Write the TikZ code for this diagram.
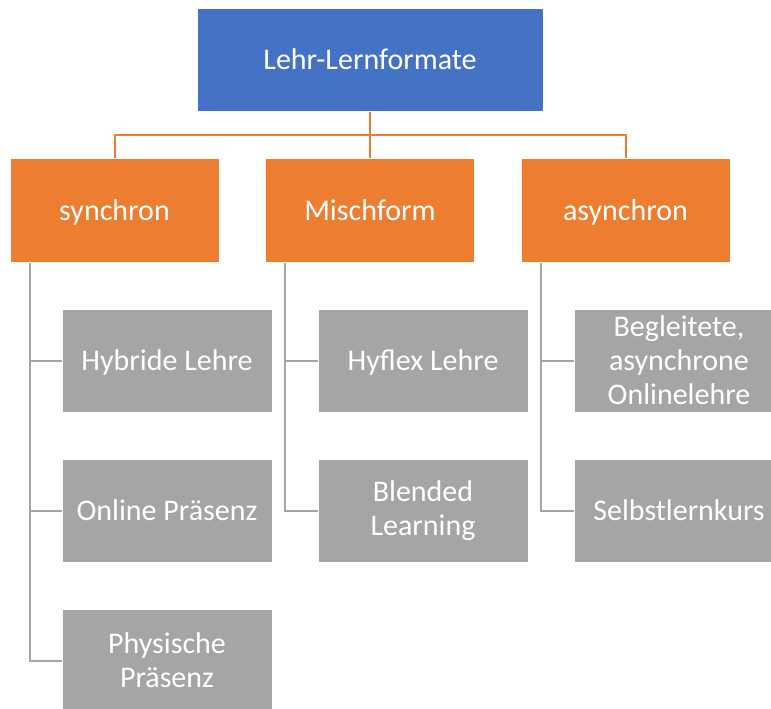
\documentclass[tikz,border=0pt]{standalone}
\usepackage{fontspec}
\setmainfont{Carlito}
\usepackage{xcolor}
\usetikzlibrary{positioning,calc}

\definecolor{topblue}{HTML}{4472C4}
\definecolor{catorange}{HTML}{ED7D31}
\definecolor{itemgray}{HTML}{A5A5A5}

\begin{document}
\begin{tikzpicture}[
    x=1pt, y=-1pt,
    root/.style={rectangle, draw=white, line width=0.8pt, fill=topblue, text=white, minimum width=346pt, minimum height=103pt, inner sep=0pt, font=\fontsize{30}{34}\selectfont, text height=19pt, text depth=0pt},
    category/.style={rectangle, draw=white, line width=0.8pt, fill=catorange, text=white, minimum width=209pt, minimum height=104pt, inner sep=0pt, font=\fontsize{30}{34}\selectfont, text height=19pt, text depth=0pt},
    item/.style={rectangle, draw=white, line width=0.8pt, fill=itemgray, text=white, minimum width=210pt, minimum height=103pt, inner sep=0pt, align=center, font=\fontsize{30}{34}\selectfont},
    oneline/.style={text height=19pt, text depth=0pt},
    oline/.style={draw=catorange, line width=2pt},
    gline/.style={draw=itemgray, line width=2pt}
]
\useasboundingbox (0,0) rectangle (771,709);

% Root
\node [root] (formate) at (370,60) {Lehr-Lernformate};

% Categories
\node [category] (synchron) at (114.5,210.5) {synchron};
\node [category] (misch) at (370,210.5) {Mischform};
\node [category] (asynchron) at (625.5,210.5) {asynchron};

% Items
\node [item, oneline] (hybrid) at (167,360.5) {Hybride Lehre};
\node [item, oneline] (onlinepr) at (167,510.5) {Online Präsenz};
\node [item] (physisch) at (167,660.5) {Physische\\Präsenz};
\node [item, oneline] (hyflex) at (423,360.5) {Hyflex Lehre};
\node [item] (blended) at (423,510.5) {Blended\\Learning};
\node [item] (begleitet) at (679,360.5) {Begleitete,\\asynchrone\\Onlinelehre};
\node [item, oneline] (selbst) at (679,510.5) {Selbstlernkurs};

% Connections - root to categories
\coordinate (bus) at (370,135);
\path [oline] (formate.south) -- (bus);
\path [oline] (bus) -| (synchron.north);
\path [oline] (bus) -| (asynchron.north);
\path [oline] (bus) -- (misch.north);

% Connections - categories to items
\path [gline] ([xshift=20pt]synchron.south west) |- (hybrid.west);
\path [gline] ([xshift=20pt]synchron.south west) |- (onlinepr.west);
\path [gline] ([xshift=20pt]synchron.south west) |- (physisch.west);
\path [gline] ([xshift=20pt]misch.south west) |- (hyflex.west);
\path [gline] ([xshift=20pt]misch.south west) |- (blended.west);
\path [gline] ([xshift=20pt]asynchron.south west) |- (begleitet.west);
\path [gline] ([xshift=20pt]asynchron.south west) |- (selbst.west);

\end{tikzpicture}
\end{document}
